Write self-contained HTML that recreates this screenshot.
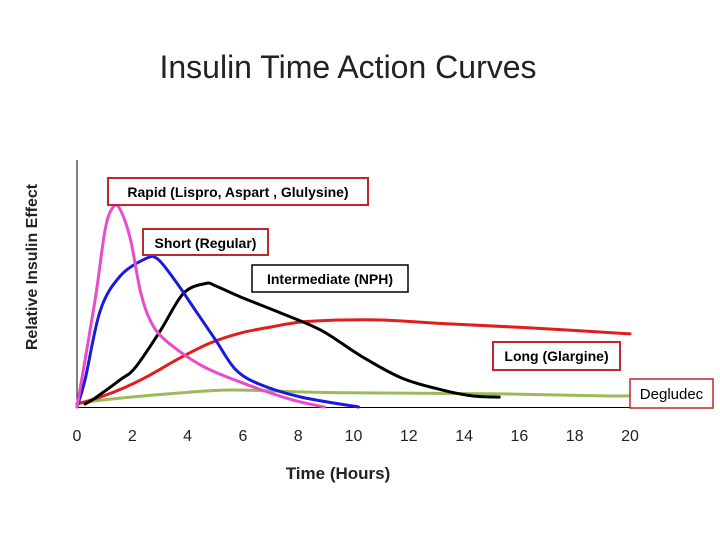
<!DOCTYPE html>
<html><head><meta charset="utf-8"><style>
body{margin:0;background:#fff;}
svg text{font-family:"Liberation Sans",sans-serif;}
</style></head><body>
<svg width="720" height="540" viewBox="0 0 720 540">
<text x="348" y="78" font-size="32" text-anchor="middle" fill="#222">Insulin Time Action Curves</text>
<text transform="translate(37,267) rotate(-90)" font-size="16" font-weight="bold" text-anchor="middle" fill="#222">Relative Insulin Effect</text>
<text x="338" y="479" font-size="17" font-weight="bold" text-anchor="middle" fill="#222">Time (Hours)</text>
<line x1="77" y1="160" x2="77" y2="408" stroke="#000" stroke-width="1"/>
<line x1="77" y1="407.5" x2="630" y2="407.5" stroke="#000" stroke-width="1"/>
<g id="ticks"></g>
<g id="series"></g>
<g><rect x="108" y="178" width="260" height="27" fill="#fff" stroke="#c0262c" stroke-width="2"/><text x="238" y="197" font-size="14" font-weight="bold" text-anchor="middle">Rapid (Lispro, Aspart , Glulysine)</text></g>
<g><rect x="143" y="229" width="125" height="26" fill="#fff" stroke="#c0262c" stroke-width="2"/><text x="205.5" y="248" font-size="14" font-weight="bold" text-anchor="middle">Short (Regular)</text></g>
<g><rect x="252" y="265" width="156" height="27" fill="#fff" stroke="#000" stroke-width="1.5"/><text x="330" y="284" font-size="14" font-weight="bold" text-anchor="middle">Intermediate (NPH)</text></g>
<g><rect x="493" y="342" width="127" height="28" fill="#fff" stroke="#c0262c" stroke-width="2"/><text x="556.5" y="361" font-size="14" font-weight="bold" text-anchor="middle">Long (Glargine)</text></g>
<g><rect x="630" y="379" width="83" height="29" fill="#fff" stroke="#c0262c" stroke-width="1.5"/><text x="671.5" y="399" font-size="15" text-anchor="middle">Degludec</text></g>
</svg>
<script>
const xTicks=[0,2,4,6,8,10,12,14,16,18,20];
const rapidX=[0,0.65,1.02,1.31,1.56,1.93,2.29,2.65,3.2,4.47,5.93,7.75,8.95];
const rapidY=[0,43,72,81,80,68,47,35,27,17,10,3,0];
const shortX=[0,0.29,0.84,1.56,2.47,2.91,3.56,4.29,5.02,5.75,6.65,8.11,10.18];
const shortY=[0,11,39,53,60,60,51,39,27,15,9,4,0];
const nphX=[0.29,0.65,1.56,2.11,3.02,3.85,4.65,5.02,5.93,7.38,8.84,10.29,11.75,13.2,14.29,15.27];
const nphY=[1.2,3.6,11,16,31,46,50,49,44.5,38,31,20.5,11.7,6.9,4.5,4];
const longX=[0,0.84,1.75,2.65,3.75,4.84,5.93,7.02,8.11,9.56,11.02,13.56,16.47,20];
const longY=[1.2,4,8,13,20,26,30,32.4,34.4,35.2,35.2,33.6,32,29.6];
const degX=[0,1.56,3.75,5.56,8.11,10.29,15.38,19.02,20];
const degY=[1.6,3.6,5.7,6.9,6.1,5.7,5.3,4.5,4.5];
const NS="http://www.w3.org/2000/svg";
function sx(h){return 77+h*27.65;}
function sy(v){return 407-v*2.47;}
const tg=document.getElementById('ticks');
xTicks.forEach(t=>{
 const tx=document.createElementNS(NS,'text');
 tx.setAttribute('x',sx(t));tx.setAttribute('y',441);
 tx.setAttribute('font-size','16');tx.setAttribute('text-anchor','middle');tx.setAttribute('fill','#222');
 tx.textContent=t;
 
 
 tg.appendChild(tx);
});
const sg=document.getElementById('series');
function pathD(xs,ys){
 const P=xs.map((x,i)=>[sx(x),sy(ys[i])]);
 let d='M'+P[0][0]+','+P[0][1];
 for(let i=0;i<P.length-1;i++){
  const p0=P[i-1]||P[i],p1=P[i],p2=P[i+1],p3=P[i+2]||p2;
  const c1=[p1[0]+(p2[0]-p0[0])/6,p1[1]+(p2[1]-p0[1])/6];
  const c2=[p2[0]-(p3[0]-p1[0])/6,p2[1]-(p3[1]-p1[1])/6];
  d+=' C'+c1.join(',')+' '+c2.join(',')+' '+p2.join(',');
 }
 return d;
}
function draw(xs,ys,color,name){
 const p=document.createElementNS(NS,'path');
 p.setAttribute('d',pathD(xs,ys));
 p.setAttribute('fill','none');p.setAttribute('stroke',color);p.setAttribute('stroke-width','3');
 p.setAttribute('stroke-linejoin','round');p.setAttribute('stroke-linecap','round');
 
 
 sg.appendChild(p);
}
draw(degX,degY,'#9bbb59','degludec-curve');
draw(longX,longY,'#e01e1e','long-curve');
draw(nphX,nphY,'#000','intermediate-curve');
draw(shortX,shortY,'#1a1adf','short-curve');
draw(rapidX,rapidY,'#e84cc8','rapid-curve');
</script>
</body></html>
